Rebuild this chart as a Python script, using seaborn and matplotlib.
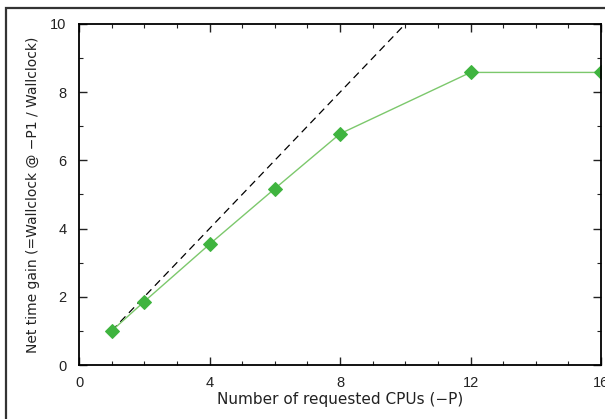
import pandas as pd
import seaborn as sns
import matplotlib.pyplot as plt
from matplotlib.patches import Rectangle

# measured speedup
cpus = [1, 2, 4, 6, 8, 12, 16]
gain = [1.0, 1.86, 3.54, 5.17, 6.78, 8.58, 8.58]

# ideal linear scaling
ideal_cpus = [1, 10]
ideal_gain = [1, 10]

sns.set_style("ticks")
plt.rcParams['font.family'] = ['Liberation Sans', 'DejaVu Sans']

fig = plt.figure(figsize=(6.05, 4.19), dpi=100)
ax = fig.add_axes([79 / 605, 1 - 365 / 419, 522 / 605, 341 / 419])

df = pd.DataFrame({'cpus': cpus, 'gain': gain})
ideal = pd.DataFrame({'cpus': ideal_cpus, 'gain': ideal_gain})

sns.lineplot(data=ideal, x='cpus', y='gain', ax=ax, color='black',
             linestyle=(0, (6, 4)), linewidth=0.9)
sns.lineplot(data=df, x='cpus', y='gain', ax=ax, color='#7cc86c',
             linewidth=1.0, marker='D', markersize=7.5,
             markerfacecolor='#3fb43f', markeredgecolor='#3fb43f')

ax.set_xlim(0, 16)
ax.set_ylim(0, 10)
ax.set_xticks([0, 4, 8, 12, 16])
ax.set_xticks(range(0, 17), minor=True)
ax.set_yticks([0, 2, 4, 6, 8, 10])
ax.set_yticks(range(0, 11), minor=True)
ax.tick_params(which='both', direction='in', top=True, right=True,
               labelsize=10.5, colors='#222222')
ax.tick_params(axis='y', pad=9)
ax.tick_params(axis='x', pad=8)
ax.tick_params(which='major', length=6, width=1)
ax.tick_params(which='minor', length=3, width=0.8)
for s in ax.spines.values():
    s.set_linewidth(1.3)
    s.set_color('black')

ax.set_xlabel('Number of requested CPUs (\u2212P)', fontsize=11, color='#222222',
              labelpad=1, family='DejaVu Sans')
ax.set_ylabel('Net time gain (=Wallclock @ \u2212P1 / Wallclock)', fontsize=10,
              color='#222222', labelpad=7, family='DejaVu Sans')

# outer frame
fig.patches.append(Rectangle((6 / 605, -0.1), 1.2, 1 - 8 / 419 + 0.1,
                             transform=fig.transFigure, fill=False,
                             edgecolor='#333333', linewidth=1.6))

fig.savefig('out.png', dpi=100)
